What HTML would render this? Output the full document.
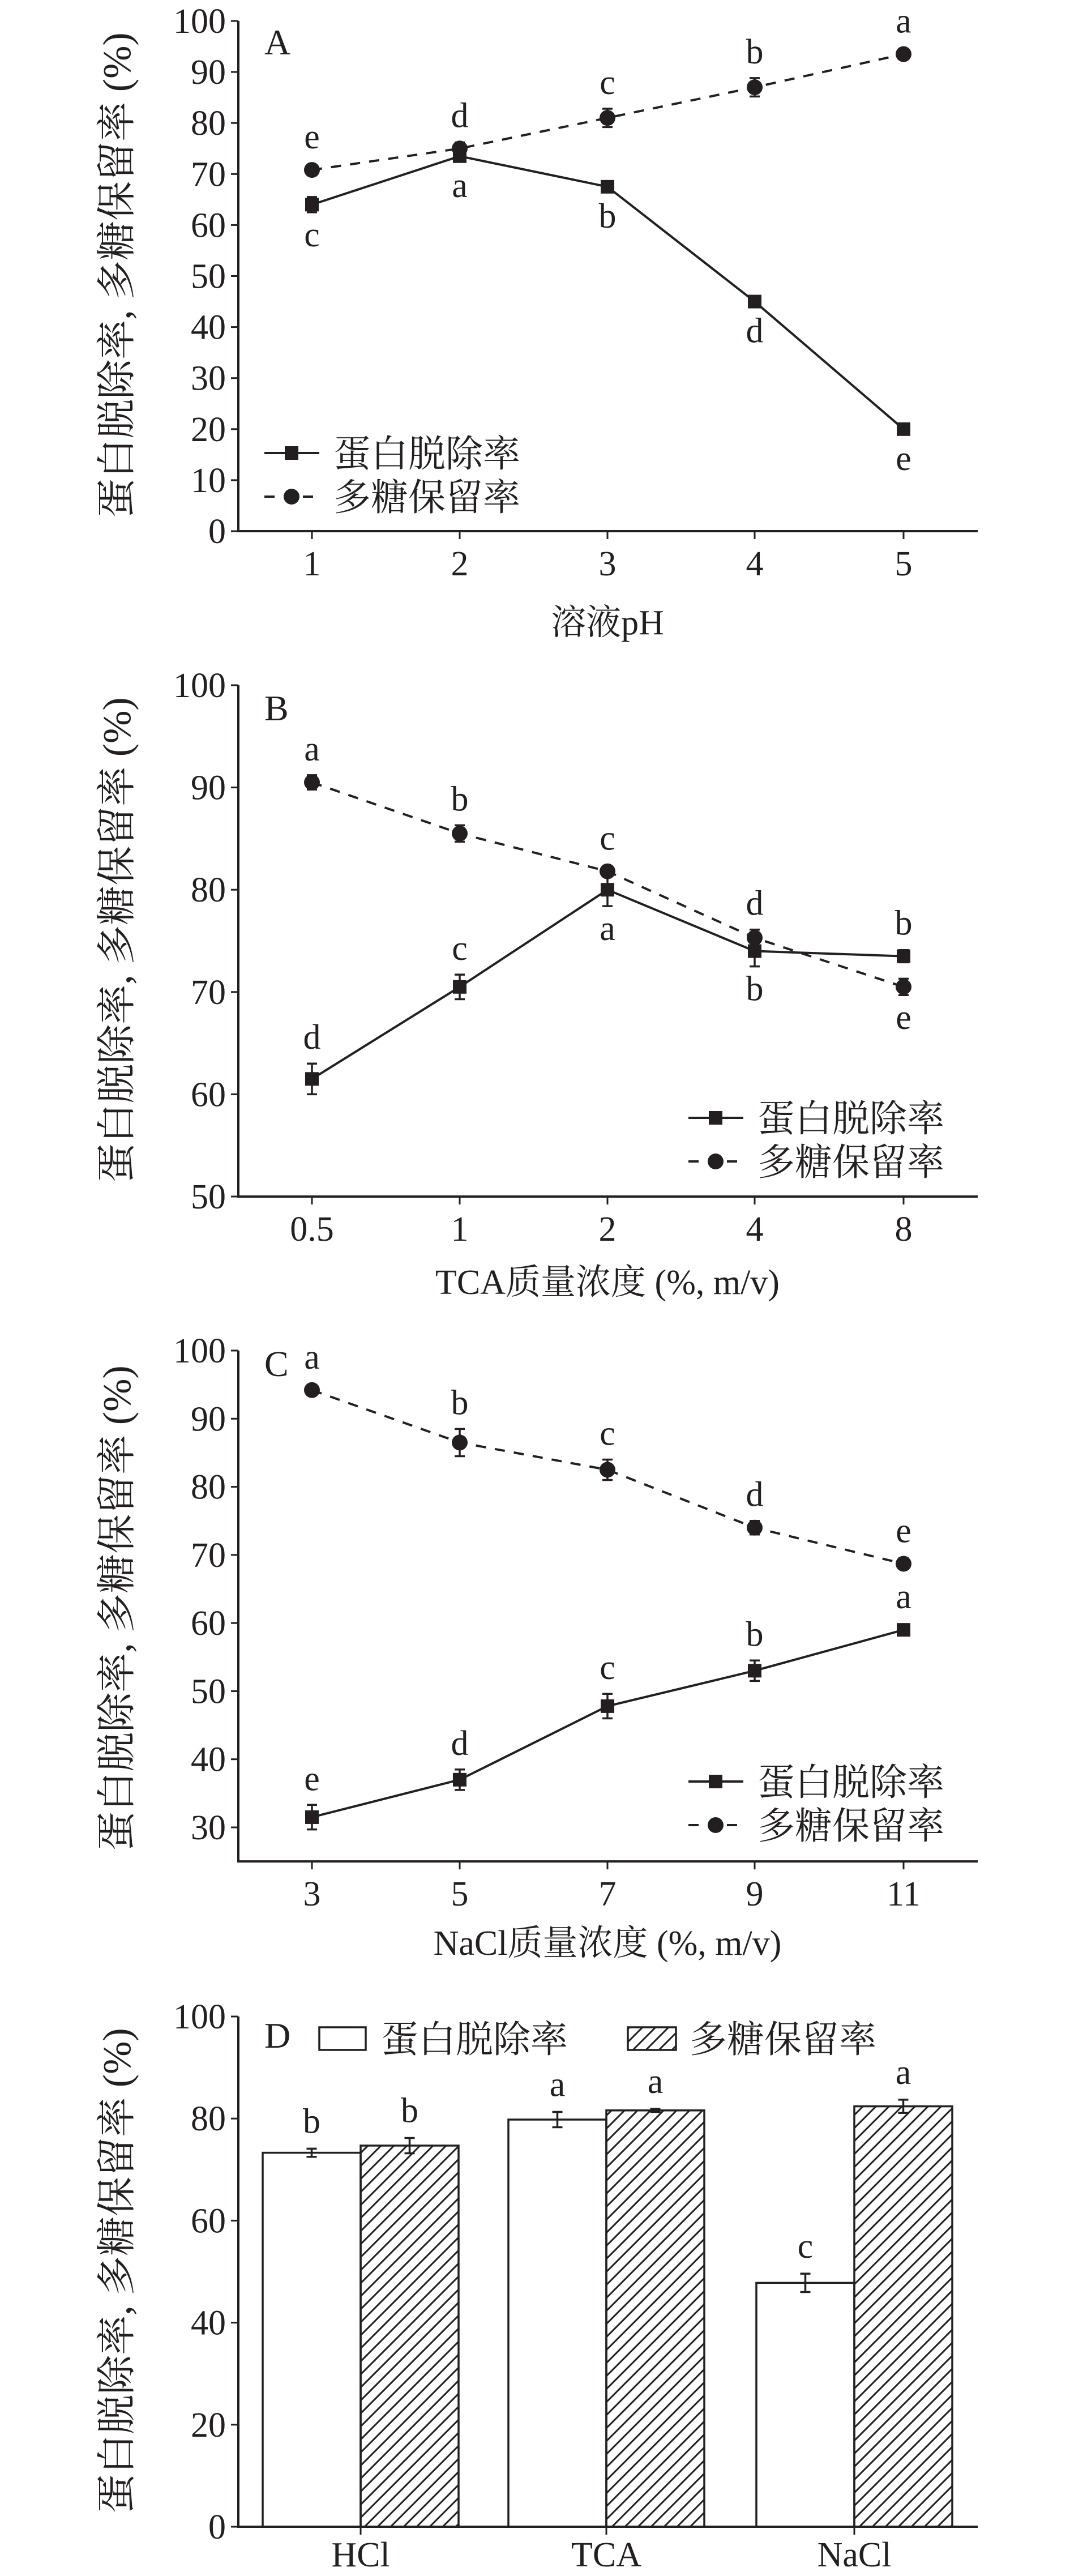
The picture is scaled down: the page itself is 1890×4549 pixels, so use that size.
<!DOCTYPE html>
<html><head><meta charset="utf-8">
<style>
html,body{margin:0;padding:0;background:#fff;}
svg{display:block;}
text{font-family:"Liberation Serif","Noto Serif CJK SC","Noto Sans CJK SC",serif;fill:#231f20;}
.cjk{font-family:"Liberation Serif","Noto Serif CJK SC",serif;}
</style></head>
<body>
<svg id="fig" xmlns="http://www.w3.org/2000/svg" width="1890" height="4549" viewBox="0 0 1890 4549">
<defs>
<pattern id="hatch" patternUnits="userSpaceOnUse" width="23" height="23">
<path d="M-2,25 L25,-2 M-12,12 L12,-12 M11,35 L35,11" stroke="#231f20" stroke-width="3"/>
</pattern>
</defs>
</svg>
<script>
// Panel A
const catsA = ["1","2","3","4","5"];
const protA = [64, 73.5, 67.5, 45, 20];
const protErrA = [1.5, 1, 0.5, 1, 1];
const protLetA = ["c","a","b","d","e"];
const polyA = [70.8, 75, 81, 87, 93.5];
const polyErrA = [0.5, 1.2, 1.8, 1.8, 0.5];
const polyLetA = ["e","d","c","b","a"];
const ticksA = [0,10,20,30,40,50,60,70,80,90,100];
// Panel B
const catsB = ["0.5","1","2","4","8"];
const protB = [61.5, 70.5, 80, 74, 73.5];
const protErrB = [1.5, 1.2, 1.6, 1.5, 0.6];
const protLetB = ["d","c","a","b","b"];
const polyB = [90.5, 85.5, 81.8, 75.3, 70.5];
const polyErrB = [0.7, 0.8, 0.3, 0.8, 0.8];
const polyLetB = ["a","b","c","d","e"];
const ticksB = [50,60,70,80,90,100];
// Panel C
const catsC = ["3","5","7","9","11"];
const protC = [31.5, 37, 47.8, 53, 59];
const protErrC = [1.8, 1.5, 1.8, 1.5, 0.3];
const protLetC = ["e","d","c","b","a"];
const polyC = [94.2, 86.5, 82.5, 74, 68.7];
const polyErrC = [0.5, 2, 1.5, 1, 0.8];
const polyLetC = ["a","b","c","d","e"];
const ticksC = [30,40,50,60,70,80,90,100];
// Panel D
const catsD = ["HCl","TCA","NaCl"];
const protD = [73.3, 79.8, 47.8];
const protErrD = [0.8, 1.5, 1.8];
const protLetD = ["b","a","c"];
const polyD = [74.7, 81.6, 82.4];
const polyErrD = [1.5, 0.3, 1.3];
const polyLetD = ["b","a","a"];
const ticksD = [0,20,40,60,80,100];

const NS = "http://www.w3.org/2000/svg";
const svg = document.getElementById("fig");
const INK = "#231f20";
function mk(tag, attrs, parent){
  const e = document.createElementNS(NS, tag);
  for (const k in attrs) e.setAttribute(k, attrs[k]);
  (parent||svg).appendChild(e);
  return e;
}
function txt(s, x, y, size, anchor, parent){
  const t = mk("text", {x:x, y:y, "font-size":size, "text-anchor":anchor||"middle"}, parent);
  t.textContent = s;
  return t;
}
const X0 = 421, X1 = 1727;
const PX = [551, 812, 1073, 1333, 1596];

function axes(g, yScale, ticks, yBot, xLabels, xPos, xTitle, xTitleY, letter, letterY, titleCY, xLabOff){
  const ax = mk("path", {d:`M${X0},${yScale(ticks[ticks.length-1])} L${X0},${yBot} L${X1},${yBot}`, stroke:INK, "stroke-width":4, fill:"none"}, g);
  
  
  ticks.forEach(v => {
    const y = yScale(v);
    const tk = mk("line", {x1:X0-13, x2:X0, y1:y, y2:y, stroke:INK, "stroke-width":3}, g);
    
    
    const tl = txt(String(v), X0-22, y+21, 62, "end", g);
    
    
  });
  xLabels.forEach((s, i) => {
    const tk = mk("line", {x1:xPos[i], x2:xPos[i], y1:yBot, y2:yBot+14, stroke:INK, "stroke-width":3}, g);
    
    
    const tl = txt(s, xPos[i], yBot+xLabOff, 62, "middle", g);
    
    
  });
  if (xTitle){
    const xt = txt(xTitle, 1073, xTitleY, 62, "middle", g);
    xt.setAttribute("class", "cjk");
    
    
  }
  const yt = txt("蛋白脱除率, 多糖保留率 (%)", 0, 0, 70, "middle", g);
  yt.setAttribute("class", "cjk");
  yt.setAttribute("transform", `translate(230,${titleCY}) rotate(-90)`);
  
  
  const pl = txt(letter, 467, letterY, 64, "start", g);
  
  
}

function errbar(g, x, yc, ePx){
  const p = mk("path", {d:`M${x},${yc-ePx} L${x},${yc+ePx} M${x-9},${yc-ePx} L${x+9},${yc-ePx} M${x-9},${yc+ePx} L${x+9},${yc+ePx}`, stroke:INK, "stroke-width":3.5, fill:"none"}, g);
  
  
}

function series(g, vals, errs, lets, yScale, unitPx, dashed, marker, letPos){
  const pts = vals.map((v,i)=>[PX[i], yScale(v)]);
  const ln = mk("polyline", {points:pts.map(p=>p.join(",")).join(" "), stroke:INK, "stroke-width":4, fill:"none"}, g);
  if (dashed) ln.setAttribute("stroke-dasharray", "18 16");
  
  
  pts.forEach((p,i)=>{
    const e = errs[i]*unitPx;
    errbar(g, p[0], p[1], e);
    let m;
    if (marker === "sq") m = mk("rect", {x:p[0]-12, y:p[1]-12, width:24, height:24, fill:INK}, g);
    else m = mk("circle", {cx:p[0], cy:p[1], r:14, fill:INK}, g);
    
    
    const above = letPos[i] === "u";
    const off = Math.max(e, 12);
    const ly = above ? p[1] - off - 26 : p[1] + off + 60;
    const lt = txt(lets[i], p[0], ly, 62, "middle", g);
    
    
  });
}

function legend(g, x, y1, y2){
  const l1 = mk("line", {x1:x, x2:x+97, y1:y1, y2:y1, stroke:INK, "stroke-width":4}, g);
  
  
  const s = mk("rect", {x:x+36, y:y1-12, width:24, height:24, fill:INK}, g);
  
  
  const t1 = txt("蛋白脱除率", x+122, y1+24, 66, "start", g);
  t1.setAttribute("class", "cjk");
  
  
  const l2 = mk("line", {x1:x, x2:x+97, y1:y2, y2:y2, stroke:INK, "stroke-width":4, "stroke-dasharray":"18 16"}, g);
  
  
  const c = mk("circle", {cx:x+48, cy:y2, r:14, fill:INK}, g);
  
  
  const t2 = txt("多糖保留率", x+122, y2+24, 66, "start", g);
  t2.setAttribute("class", "cjk");
  
  
}

// ---- Panel A ----
{
  const g = mk("g", {});
  
  
  const top = 37, bot = 938, lo = 0, hi = 100;
  const yS = v => bot - (v-lo)/(hi-lo)*(bot-top);
  const u = (bot-top)/(hi-lo);
  axes(g, yS, ticksA, bot, catsA, PX, "溶液pH", 1120, "A", 96, 486, 78);
  series(g, protA, protErrA, protLetA, yS, u, false, "sq", ["d","d","d","d","d"]);
  series(g, polyA, polyErrA, polyLetA, yS, u, true, "ci", ["u","u","u","u","u"]);
  legend(g, 467, 800, 877);
}
// ---- Panel B ----
{
  const g = mk("g", {});
  
  
  const top = 1210, bot = 2113, lo = 50, hi = 100;
  const yS = v => bot - (v-lo)/(hi-lo)*(bot-top);
  const u = (bot-top)/(hi-lo);
  axes(g, yS, ticksB, bot, catsB, PX, "TCA质量浓度 (%, m/v)", 2285, "B", 1272, 1660, 78);
  series(g, protB, protErrB, protLetB, yS, u, false, "sq", ["u","u","d","d","u"]);
  series(g, polyB, polyErrB, polyLetB, yS, u, true, "ci", ["u","u","u","u","d"]);
  legend(g, 1216, 1974, 2051);
}
// ---- Panel C ----
{
  const g = mk("g", {});
  
  
  const lo = 25;
  const per = (3227-2385)/70;
  const yS = v => 2385 + (100 - v)*per;
  const bot = yS(lo);
  axes(g, yS, ticksC, bot, catsC, PX, "NaCl质量浓度 (%, m/v)", 3452, "C", 2430, 2840, 78);
  series(g, protC, protErrC, protLetC, yS, per, false, "sq", ["u","u","u","u","u"]);
  series(g, polyC, polyErrC, polyLetC, yS, per, true, "ci", ["u","u","u","u","u"]);
  legend(g, 1216, 3146, 3223);
}
// ---- Panel D ----
{
  const g = mk("g", {});
  
  
  const top = 3561, bot = 4462, lo = 0, hi = 100;
  const yS = v => bot - (v-lo)/(hi-lo)*(bot-top);
  const u = (bot-top)/(hi-lo);
  const centers = [637, 1071, 1509];
  const bw = 173;
  catsD.forEach((c,i)=>{
    const x = centers[i];
    [[protD, protErrD, protLetD, x-bw, "#fff", 'bar-protein'],[polyD, polyErrD, polyLetD, x, "url(#hatch)", 'bar-polysaccharide']].forEach(s=>{
      const v = s[0][i], y = yS(v);
      const r = mk("rect", {x:s[3], y:y, width:bw, height:bot-y, fill:s[4], stroke:INK, "stroke-width":3.5}, g);
      
      
      const cx = s[3] + bw/2;
      errbar(g, cx, y, s[1][i]*u);
      const lt = txt(s[2][i], cx, y - s[1][i]*u - 28, 62, "middle", g);
      
      
    });
  });
  axes(g, yS, ticksD, bot, catsD, centers, null, 0, "D", 3616, 4010, 70);
  const b1 = mk("rect", {x:564, y:3580, width:82, height:40, fill:"#fff", stroke:INK, "stroke-width":3.5}, g);
  
  
  const t1 = txt("蛋白脱除率", 673, 3624, 66, "start", g);
  t1.setAttribute("class", "cjk");
  
  
  const b2 = mk("rect", {x:1109, y:3580, width:85, height:40, fill:"url(#hatch)", stroke:INK, "stroke-width":3.5}, g);
  
  
  const t2 = txt("多糖保留率", 1218, 3624, 66, "start", g);
  t2.setAttribute("class", "cjk");
  
  
}
</script>
</body></html>
